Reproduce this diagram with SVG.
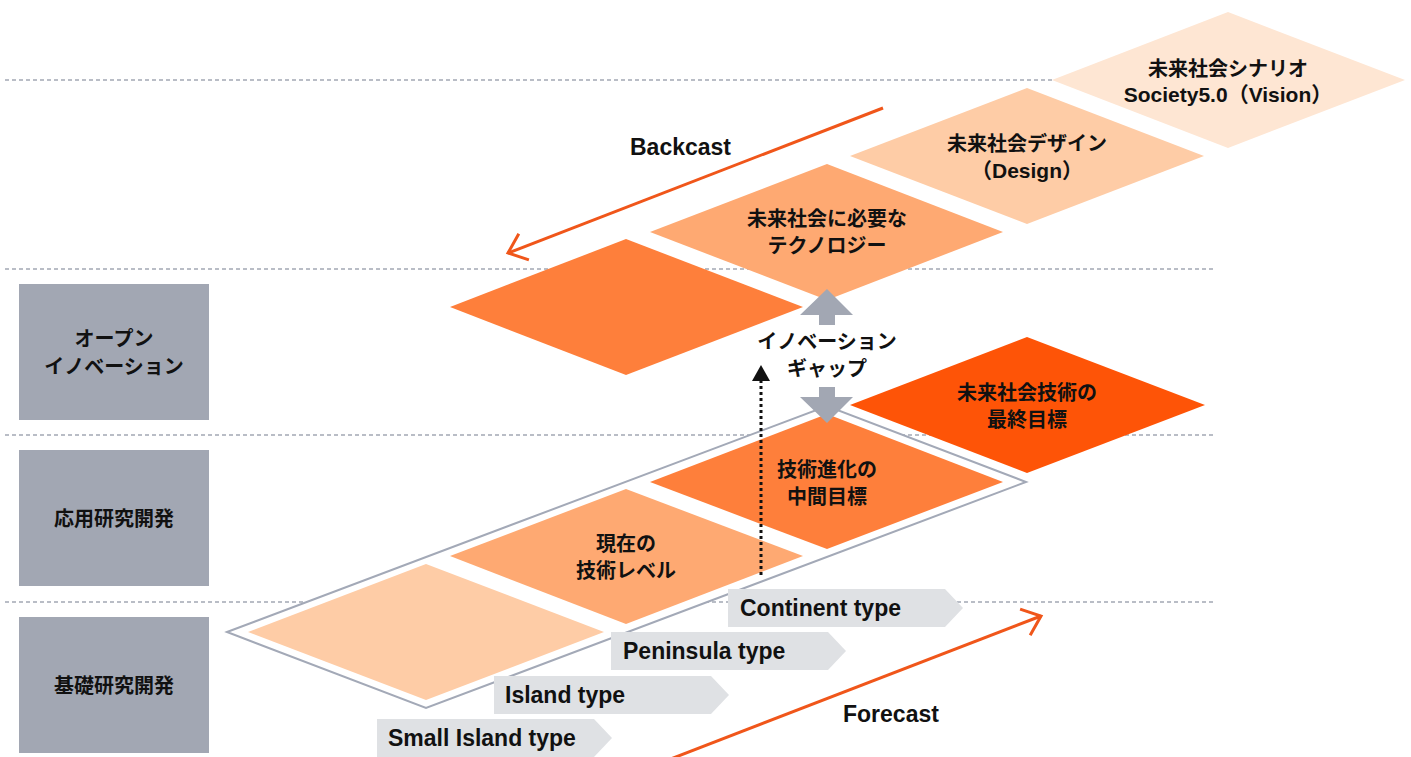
<svg xmlns="http://www.w3.org/2000/svg" width="1411" height="757" viewBox="0 0 1411 757">
<defs>
<style>
.dash{stroke:#a3a8b4;stroke-width:1.5;stroke-dasharray:4 3;fill:none}
.box{fill:#a2a7b3}
.tag{fill:#dfe1e4}
.jp{font-family:"Noto Sans CJK JP","Noto Sans CJK SC",sans-serif;font-weight:700;font-size:20px;fill:#111;text-anchor:middle}
.en{font-family:"Liberation Sans","Noto Sans CJK JP",sans-serif;font-weight:700;font-size:23px;fill:#111}
.mix{font-family:"Liberation Sans","Noto Sans CJK JP",sans-serif;font-weight:700;font-size:21px;fill:#111;text-anchor:middle}
.orange{stroke:#f0561a;stroke-width:3;fill:none}
.gray{fill:#a2a7b3}
</style>
<marker id="chev" markerUnits="userSpaceOnUse" markerWidth="40" markerHeight="40" refX="0" refY="0" viewBox="-20 -20 40 40" orient="auto" overflow="visible">
<path d="M-17,-14 L0,0 L-17,14" fill="none" stroke="#f0561a" stroke-width="3"/>
</marker>
</defs>
<rect width="1411" height="757" fill="#ffffff"/>

<g id="gridlines">
<line class="dash" x1="5" y1="80" x2="1215" y2="80"/>
<line class="dash" x1="5" y1="269" x2="1215" y2="269"/>
<line class="dash" x1="5" y1="435" x2="1215" y2="435"/>
<line class="dash" x1="5" y1="602" x2="1215" y2="602"/>
</g>

<g id="lane-open">
<rect class="box" x="19" y="284" width="190" height="136"/>
<text class="jp" x="114" y="346">オープン</text>
<text class="jp" x="114" y="374">イノベーション</text>
</g>
<g id="lane-applied">
<rect class="box" x="19" y="450" width="190" height="136"/>
<text class="jp" x="114" y="526">応用研究開発</text>
</g>
<g id="lane-basic">
<rect class="box" x="19" y="617" width="190" height="136"/>
<text class="jp" x="114" y="693">基礎研究開発</text>
</g>

<g id="frame">
<path d="M227,632 L827,406 L1026,482 L426,708 Z" fill="#ffffff" stroke="#a3a9b7" stroke-width="2"/>
</g>

<g id="vision">
<path d="M1052,80 L1228,12 L1405,80 L1228,148 Z" fill="#fee6d3"/>
<text class="jp" x="1228" y="76">未来社会シナリオ</text>
<text class="mix" x="1228" y="102">Society5.0（Vision）</text>
</g>
<g id="design">
<path d="M850,156 L1027,88 L1204,156 L1027,224 Z" fill="#fecca6"/>
<text class="jp" x="1027" y="151">未来社会デザイン</text>
<text class="mix" x="1027" y="178">（Design）</text>
</g>
<g id="technology">
<path d="M650,232 L827,164 L1003,232 L827,300 Z" fill="#fea972"/>
<text class="jp" x="827" y="226">未来社会に必要な</text>
<text class="jp" x="827" y="253">テクノロジー</text>
</g>
<g id="open-diamond">
<path d="M450,307 L626,239 L803,307 L626,375 Z" fill="#fe7f3b"/>
</g>
<g id="final-goal">
<path d="M850,405 L1027,337 L1205,405 L1027,473 Z" fill="#fe5407"/>
<text class="jp" x="1027" y="400">未来社会技術の</text>
<text class="jp" x="1027" y="427">最終目標</text>
</g>
<g id="intermediate">
<path d="M650,482 L827,414 L1003,482 L827,549 Z" fill="#fe7f3b"/>
<text class="jp" x="827" y="477">技術進化の</text>
<text class="jp" x="827" y="504">中間目標</text>
</g>
<g id="current">
<path d="M450,556 L626,489 L803,556 L626,624 Z" fill="#fea972"/>
<text class="jp" x="626" y="551">現在の</text>
<text class="jp" x="626" y="578">技術レベル</text>
</g>
<g id="basic-diamond">
<path d="M248,632 L426,564 L604,632 L426,700 Z" fill="#fecca6"/>
</g>

<g id="tag-continent">
<path class="tag" d="M728,589 L945,589 L963,608 L945,627 L728,627 Z"/>
<text class="en" x="740" y="616">Continent type</text>
</g>
<g id="tag-peninsula">
<path class="tag" d="M611,632 L828,632 L846,651 L828,670 L611,670 Z"/>
<text class="en" x="623" y="659">Peninsula type</text>
</g>
<g id="tag-island">
<path class="tag" d="M494,676 L711,676 L729,695 L711,714 L494,714 Z"/>
<text class="en" x="505" y="703">Island type</text>
</g>
<g id="tag-small-island">
<path class="tag" d="M377,719 L594,719 L612,738 L594,757 L377,757 Z"/>
<text class="en" x="388" y="746">Small Island type</text>
</g>

<g id="gap">
<path class="gray" d="M827,289 L853,315 L835,315 L835,325 L819,325 L819,315 L800,315 Z"/>
<path class="gray" d="M819,387 L835,387 L835,397 L853,397 L827,423 L800,397 L819,397 Z"/>
<text class="jp" x="827" y="349">イノベーション</text>
<text class="jp" x="827" y="376">ギャップ</text>
</g>

<g id="connectors">
<line class="orange" x1="883" y1="108" x2="508" y2="253" marker-end="url(#chev)"/>
<line class="orange" x1="668" y1="760" x2="1041" y2="616" marker-end="url(#chev)"/>
<line x1="761" y1="575" x2="761" y2="380" stroke="#111" stroke-width="3" stroke-dasharray="3 3"/>
<path d="M761,365 L770,381 L752,381 Z" fill="#111"/>
</g>

<g id="labels">
<text class="en" x="630" y="155">Backcast</text>
<text class="en" x="843" y="722">Forecast</text>
</g>
</svg>
